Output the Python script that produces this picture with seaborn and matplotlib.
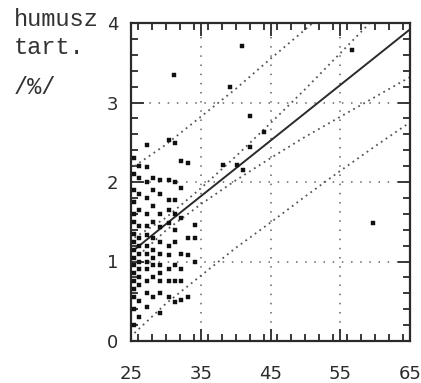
import matplotlib
matplotlib.use("Agg")
import matplotlib.pyplot as plt
from matplotlib.ticker import MultipleLocator
import seaborn as sns
import pandas as pd

# ---- data ----
pts_x = (
    [25.5] * 17 + [26.2] * 14 + [27.3] * 14 + [28.2] * 10 + [29.2] * 11 +
    [30.4] * 10 + [31.3] * 9 + [32.2] * 7 + [33.2] * 4 + [34.2] * 3 +
    [31.1, 38.2, 39.2, 40.2, 40.9, 41.1, 42.1, 42.1, 44.0, 56.7, 59.7]
)
pts_y = (
    [0.2, 0.4, 0.55, 0.65, 0.75, 0.85, 0.95, 1.05, 1.15, 1.25, 1.35, 1.5, 1.6, 1.75, 1.9, 2.1, 2.3]
    + [0.3, 0.5, 0.7, 0.8, 0.9, 1.0, 1.1, 1.2, 1.3, 1.45, 1.65, 1.85, 2.05, 2.2]
    + [0.43, 0.6, 0.75, 0.9, 1.0, 1.1, 1.2, 1.33, 1.45, 1.6, 1.8, 2.0, 2.19, 2.47]
    + [0.55, 0.8, 0.95, 1.05, 1.15, 1.3, 1.5, 1.7, 1.9, 2.05]
    + [0.35, 0.6, 0.75, 0.85, 0.95, 1.1, 1.25, 1.44, 1.6, 1.85, 2.03]
    + [0.55, 0.75, 0.9, 1.08, 1.2, 1.48, 1.65, 1.77, 2.03, 2.53]
    + [0.49, 0.75, 0.95, 1.25, 1.4, 1.6, 1.77, 2.0, 2.49]
    + [0.52, 0.75, 0.9, 1.1, 1.55, 1.92, 2.26]
    + [0.55, 1.08, 1.3, 2.24]
    + [1.0, 1.3, 1.46]
    + [3.35, 2.21, 3.19, 2.21, 3.71, 2.15, 2.44, 2.83, 2.63, 3.66, 1.48]
)

line_x = [25.5, 30, 35, 40, 45, 50, 55, 60, 65]
fit_y = [1.15, 1.47, 1.82, 2.17, 2.52, 2.87, 3.22, 3.57, 3.92]
conf_hi = [1.30, 1.55, 1.92, 2.32, 2.74, 3.17, 3.62, 4.07, 4.52]
conf_lo = [1.03, 1.39, 1.72, 2.02, 2.30, 2.57, 2.82, 3.07, 3.32]
pred_hi = [2.20, 2.47, 2.82, 3.17, 3.55, 3.92, 4.30, 4.69, 5.09]
pred_lo = [0.10, 0.47, 0.82, 1.17, 1.49, 1.82, 2.14, 2.45, 2.75]

x_ticks = [25, 35, 45, 55, 65]
y_ticks = [0, 1, 2, 3, 4]
y_title = ["humusz", "tart.", "/%/"]

# ---- figure ----
sns.set_theme(style="white")
plt.rcParams["font.family"] = ["DejaVu Sans"]
ink = "#2a2a2a"

fig = plt.figure(figsize=(4.21, 3.83), dpi=100)
W, H = 421, 383
ax = fig.add_axes([131 / W, 1 - 341 / H, (410 - 131) / W, (341 - 23) / H])

pts = pd.DataFrame({"x": pts_x, "y": pts_y})
lines = pd.DataFrame({"x": line_x, "fit": fit_y, "chi": conf_hi, "clo": conf_lo,
                      "phi": pred_hi, "plo": pred_lo})

dot = (0, (1, 2.2))
for col in ["chi", "clo", "phi", "plo"]:
    sns.lineplot(data=lines, x="x", y=col, ax=ax, color="#555555", lw=1.3,
                 linestyle=dot, estimator=None, sort=False)
sns.lineplot(data=lines, x="x", y="fit", ax=ax, color=ink, lw=1.4,
             estimator=None, sort=False)
sns.scatterplot(data=pts, x="x", y="y", ax=ax, marker="s", s=12, color="#111111",
                edgecolor="#111111", linewidth=0.3, zorder=5)

ax.set_xlim(25, 65)
ax.set_ylim(0, 4)
ax.set_xticks(x_ticks)
ax.set_yticks(y_ticks)
ax.set_xticklabels([str(v) for v in x_ticks])
ax.set_yticklabels([str(v) for v in y_ticks])
ax.xaxis.set_minor_locator(MultipleLocator(2))
ax.yaxis.set_minor_locator(MultipleLocator(0.2))
ax.set_xlabel("")
ax.set_ylabel("")

ax.grid(True, which="major", color="#666666", linestyle=(0, (1, 5)), lw=1.1)
ax.tick_params(which="both", direction="in", top=True, right=True,
               bottom=True, left=True, color=ink, width=1.3)
ax.tick_params(which="major", length=9)
ax.tick_params(which="minor", length=5)
ax.tick_params(axis="x", which="major", pad=17, labelsize=13, labelcolor=ink)
ax.tick_params(axis="y", which="major", pad=9, labelsize=13, labelcolor=ink)
for sp in ax.spines.values():
    sp.set_visible(True)
    sp.set_color(ink)
    sp.set_linewidth(1.6)

for txt, ypix in zip(y_title, [20, 47, 88]):
    fig.text(14 / W, 1 - ypix / H, txt, family=["Liberation Mono", "DejaVu Sans Mono"],
             fontsize=17, color="#333333", va="center", ha="left")

fig.savefig("out.png", dpi=100, facecolor="white")
